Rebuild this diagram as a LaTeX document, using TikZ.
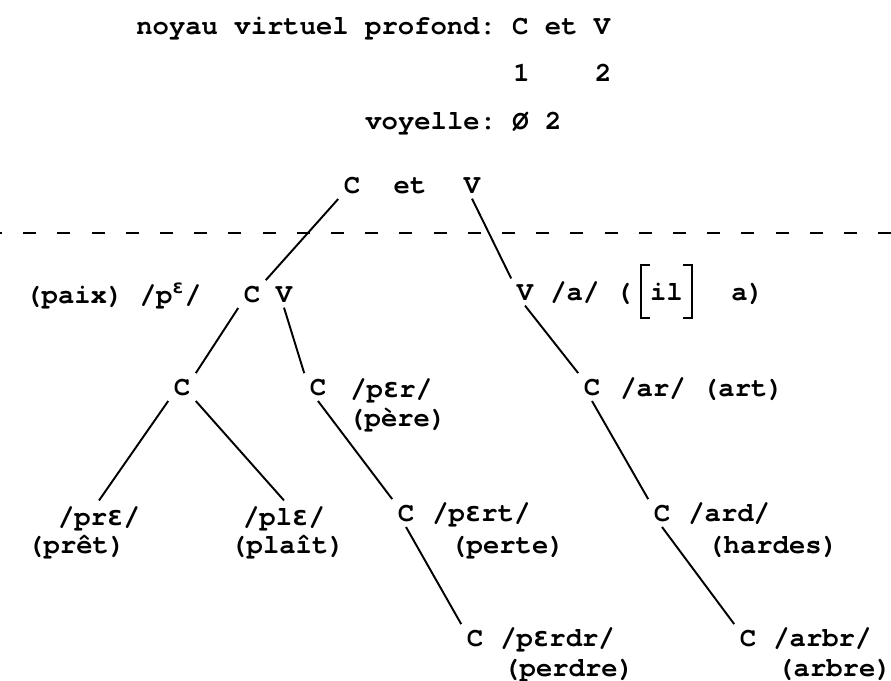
\documentclass[tikz,border=0pt]{standalone}
\usepackage{fontspec}
\usepackage{tikz}
\usetikzlibrary{positioning,calc}
\newfontfamily\twfont{TeX Gyre Cursor}
\newfontfamily\ipafont{DejaVu Sans Mono}
\newcommand\twtext{\twfont\bfseries\fontsize{15.5}{18}\selectfont}
\newcommand\epsi{{\ipafont\bfseries ɛ}}
\tikzset{
    tn/.style={font=\twtext, inner sep=3pt, anchor=base},
    lbl/.style={font=\twtext, inner sep=0pt, anchor=base west},
    leaf/.style={lbl, inner sep=3pt},
    branch/.style={line width=1.1pt, black},
    cut/.style={line width=1.3pt, dash pattern=on 0.26cm off 0.424cm, dash phase=0.22cm},
    brk/.style={line width=1.1pt},
}
\frenchspacing
\begin{document}
\begin{tikzpicture}
    \useasboundingbox (0,0) rectangle (17.82,-13.6);

    % Header
    \node[lbl] (title) at (2.72,-0.70) {noyau virtuel profond: C et V};
    \node[lbl] (idx) at (10.26,-1.64) {1~~~~2};
    \node[lbl] (voy) at (7.30,-2.60) {voyelle: Ø 2};

    % Root
    \node[tn] (cTop) at (7.04,-3.86) {C};
    \node[tn] (etTop) at (8.20,-3.86) {et};
    \node[tn] (vTop) at (9.44,-3.86) {V};
    \draw[cut] (0,-4.66) -- (17.82,-4.66);

    % Left branch
    \node[lbl] (paix) at (0.50,-6.06) {(paix) /p\textsuperscript{\epsi}/};
    \node[tn] (cvC) at (5.04,-6.04) {C};
    \node[tn] (cvV) at (5.68,-6.04) {V};
    \draw[branch] (cTop.south west) -- (cvC.north east);

    \node[tn] (cL) at (3.64,-7.90) {C};
    \node[tn] (cPer) at (6.36,-7.90) {C};
    \node[lbl] (perA) at (7.00,-7.94) {/p\epsi r/};
    \node[lbl] (perB) at (6.96,-8.52) {(père)};
    \draw[branch] (cvC.south west) -- (cL.north east);
    \draw[branch] (cvV.south) -- (cPer.north west);

    \node[leaf] (preA) at (1.05,-10.50) {/pr\epsi/};
    \node[lbl] (preB) at (0.54,-11.06) {(prêt)};
    \node[leaf] (pleA) at (4.75,-10.50) {/pl\epsi/};
    \node[lbl] (pleB) at (4.60,-11.06) {(plaît)};
    \draw[branch] (cL.south west) -- (preA.north);
    \draw[branch] (cL.south east) -- (pleA.north);

    \node[tn] (cPert) at (8.12,-10.42) {C};
    \node[lbl] (pertA) at (8.64,-10.42) {/p\epsi rt/};
    \node[lbl] (pertB) at (9.00,-11.06) {(perte)};
    \draw[branch] (cPer.south) -- (cPert.north west);

    \node[tn] (cPerdr) at (9.50,-12.92) {C};
    \node[lbl] (perdrA) at (10.00,-12.92) {/p\epsi rdr/};
    \node[lbl] (perdrB) at (10.06,-13.52) {(perdre)};
    \draw[branch] (cPert.south) -- (cPerdr.north west);

    % Right branch
    \node[tn] (vA) at (10.50,-6.00) {V};
    \node[lbl] (aLab) at (11.00,-6.00) {/a/ (};
    \node[lbl, inner xsep=5pt, inner ysep=10pt] (il) at (12.82,-6.00) {il};
    \node[lbl] (ilA) at (14.62,-6.00) {a)};
    \draw[brk] ([xshift=5pt]il.north west) -| (il.south west) -- ++(5pt,0);
    \draw[brk] ([xshift=-5pt]il.north east) -| (il.south east) -- ++(-5pt,0);
    \draw[branch] (vTop.south) -- (vA.north west);

    \node[tn] (cAr) at (11.84,-7.90) {C};
    \node[lbl] (arLab) at (12.40,-7.92) {/ar/ (art)};
    \draw[branch] (vA.south) -- (cAr.north west);

    \node[tn] (cArd) at (13.24,-10.42) {C};
    \node[lbl] (ardA) at (13.76,-10.42) {/ard/};
    \node[lbl] (ardB) at (14.14,-11.06) {(hardes)};
    \draw[branch] (cAr.south) -- (cArd.north west);

    \node[tn] (cArbr) at (14.96,-12.92) {C};
    \node[lbl] (arbrA) at (15.46,-12.92) {/arbr/};
    \node[lbl] (arbrB) at (15.54,-13.52) {(arbre)};
    \draw[branch] (cArd.south) -- (cArbr.north west);
\end{tikzpicture}
\end{document}
